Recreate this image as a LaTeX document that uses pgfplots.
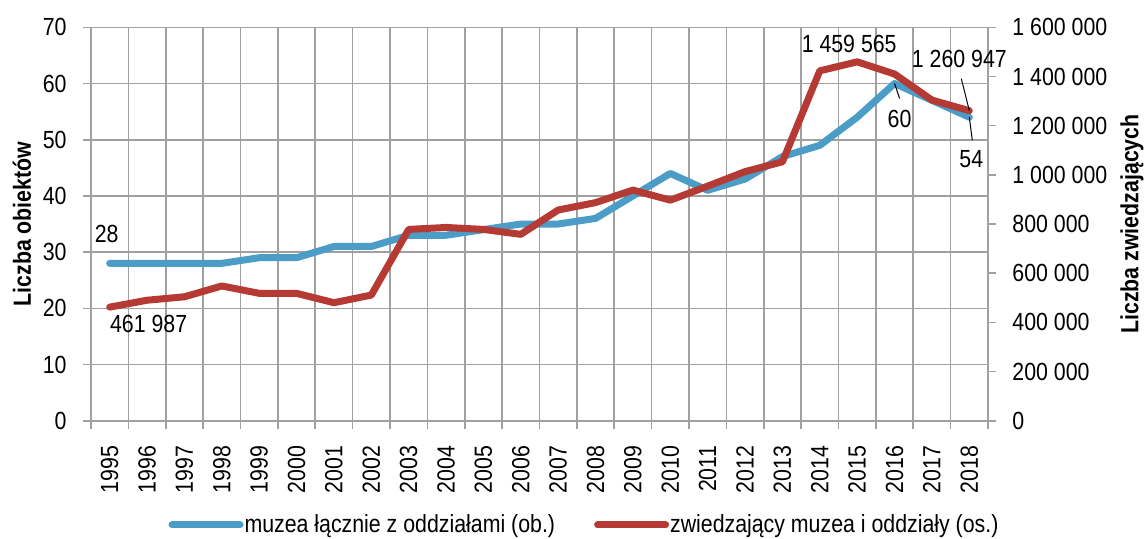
\documentclass[border=0pt]{standalone}
\usepackage{fontspec}
\setmainfont{Liberation Sans}[FakeStretch=0.86]
\usepackage{pgfplots}
\pgfplotsset{compat=1.18}
\definecolor{cblue}{RGB}{75,156,199}
\definecolor{cred}{RGB}{181,58,52}
\definecolor{cgrid}{RGB}{160,160,160}

\pgfplotstableread{
x y
0 28
1 28
2 28
3 28
4 29
5 29
6 31
7 31
8 33
9 33
10 34
11 35
12 35
13 36
14 40
15 44
16 41
17 43
18 47
19 49
20 54
21 60
22 57
23 54
}\museums

\pgfplotstableread{
x y
0 461987
1 490000
2 504000
3 548000
4 518000
5 518000
6 480000
7 511000
8 778000
9 786000
10 778000
11 758000
12 857000
13 887000
14 938000
15 897000
16 954000
17 1013000
18 1053000
19 1423000
20 1459565
21 1410000
22 1304000
23 1260947
}\visitors

\begin{document}
\begin{tikzpicture}[font=\fontsize{12.4}{14}\selectfont]
\useasboundingbox (-45.5pt,-58.65pt) rectangle (527.5pt,210.35pt);
\begin{axis}[
  at={(0,0)}, anchor=south west,
  scale only axis, width=448.5pt, height=196.7pt,
  xmin=-0.5, xmax=23.5, ymin=0, ymax=70,
  axis y line*=left, axis x line*=bottom,
  axis line style={draw=cgrid, line width=0.8pt},
  every tick/.style={draw=cgrid, line width=0.8pt},
  tick align=outside,
  xtick={0,...,23},
  xticklabels={1995,1996,1997,1998,1999,2000,2001,2002,2003,2004,2005,2006,2007,2008,2009,2010,2011,2012,2013,2014,2015,2016,2017,2018},
  major x tick style={draw=none},
  x tick label style={rotate=90, anchor=east, inner sep=0pt, yshift=0pt},
  xticklabel shift=8.5pt,
  minor xtick={-0.5,0.5,...,23.5},
  minor tick length=4pt,
  major tick length=4pt,
  xminorgrids, ymajorgrids,
  grid style={draw=cgrid, line width=0.8pt},
  minor grid style={draw=cgrid, line width=0.8pt},
  ytick={0,10,...,70},
  yticklabels={0,10,20,30,40,50,60,70},
  y tick label style={inner sep=0pt},
  yticklabel shift=8pt,
  ylabel={\textbf{Liczba obiektów}},
  ylabel style={at={(axis description cs:-0.077,0.5)}, anchor=center},
  clip=false,
]
\addplot[cblue, line width=3.5pt, line cap=round, line join=round] table[x=x,y=y] {\museums};
\node[inner sep=0pt, anchor=center] at (axis cs:0,28) [xshift=-1.5pt, yshift=14.7pt] {28};
\node[inner sep=0pt, anchor=center] at (axis cs:21,60) [xshift=2.5pt, yshift=-17.75pt] {60};
\draw[black, line width=0.5pt] (axis cs:21,60) -- ++(2.5pt,-7.5pt);
\node[inner sep=0pt, anchor=center] at (axis cs:23,54) [xshift=1pt, yshift=-20.9pt] {54};
\draw[black, line width=0.5pt] (axis cs:23,54) -- ++(1.5pt,-11.5pt);
\end{axis}
\begin{axis}[
  at={(0,0)}, anchor=south west,
  scale only axis, width=448.5pt, height=196.7pt,
  xmin=-0.5, xmax=23.5, ymin=0, ymax=1600000,
  axis y line*=right, axis x line=none,
  axis line style={draw=cgrid, line width=0.8pt},
  every tick/.style={draw=cgrid, line width=0.8pt},
  tick align=outside,
  major tick length=4pt,
  ytick={0,200000,400000,600000,800000,1000000,1200000,1400000,1600000},
  yticklabels={0,200 000,400 000,600 000,800 000,1 000 000,1 200 000,1 400 000,1 600 000},
  y tick label style={inner sep=0pt},
  yticklabel shift=8pt,
  scaled y ticks=false,
  ylabel={\textbf{Liczba zwiedzających}},
  ylabel style={at={(axis description cs:1.1605,0.5)}, anchor=center},
  clip=false,
  legend style={at={(axis description cs:0.5496,-0.265)}, anchor=center, draw=none, fill=none,
    inner sep=0pt, legend columns=2,
    /tikz/every even column/.append style={column sep=19pt},
    nodes={inner sep=0.5pt}},
  legend image code/.code={\draw[#1, line cap=round] (0pt,0pt) -- (34pt,0pt);},
]
\addlegendimage{cblue, line width=3.5pt}
\addlegendentry{muzea łącznie z oddziałami (ob.)}
\addplot[cred, line width=3.5pt, line cap=round, line join=round] table[x=x,y=y] {\visitors};
\addlegendentry{zwiedzający muzea i oddziały (os.)}
\node[inner sep=0pt, anchor=north west] at (axis cs:0,461987) [xshift=0pt, yshift=-4pt] {461 987};
\node[inner sep=0pt, anchor=center] at (axis cs:20,1459565) [xshift=-4pt, yshift=8.9pt] {1 459 565};
\node[inner sep=0pt, anchor=center] at (axis cs:23,1260947) [xshift=-5pt, yshift=25.9pt] {1 260 947};
\draw[black, line width=0.5pt] (axis cs:23,1260947) ++(-4pt,16pt) -- (axis cs:23,1260947);
\end{axis}
\end{tikzpicture}
\end{document}
